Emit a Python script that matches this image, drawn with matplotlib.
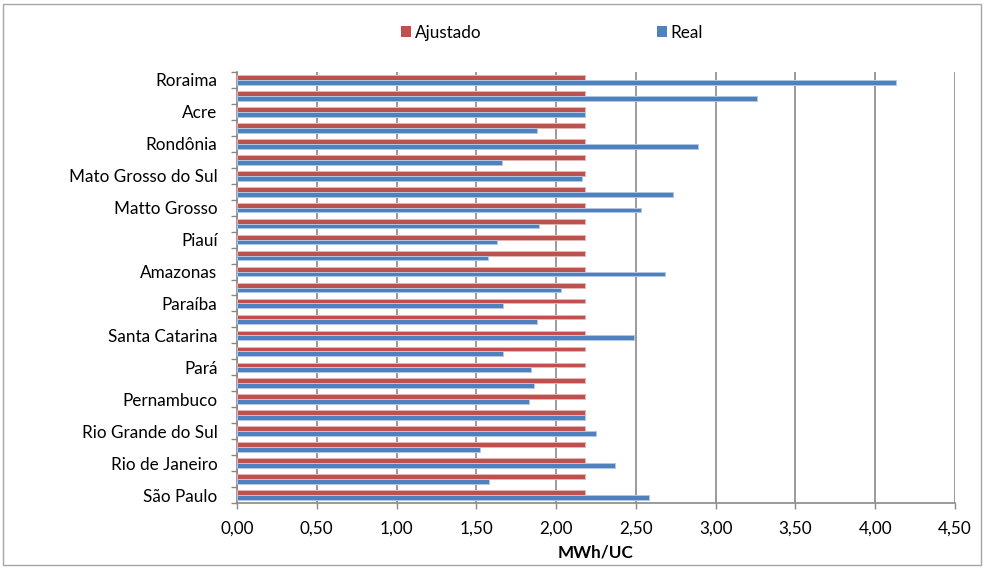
import matplotlib.pyplot as plt
import numpy as np
from matplotlib.patches import Rectangle

plt.rcParams['font.family'] = ['Lato', 'DejaVu Sans']

# states from top to bottom; only every other one gets a label on the axis
estados = ['Roraima', '', 'Acre', '', 'Rondônia', '', 'Mato Grosso do Sul', '',
           'Matto Grosso', '', 'Piauí', '', 'Amazonas', '', 'Paraíba', '',
           'Santa Catarina', '', 'Pará', '', 'Pernambuco', '', 'Rio Grande do Sul', '',
           'Rio de Janeiro', '', 'São Paulo']
real = [4.13, 3.26, 2.18, 1.88, 2.89, 1.66, 2.16, 2.73, 2.53, 1.89, 1.63, 1.57, 2.68, 2.03,
        1.67, 1.88, 2.49, 1.67, 1.84, 1.86, 1.83, 2.18, 2.25, 1.52, 2.37, 1.58, 2.58]
ajustado = [2.18] * 27
xticks = [0, 0.5, 1.0, 1.5, 2.0, 2.5, 3.0, 3.5, 4.0, 4.5]
xticklabels = ['0,00', '0,50', '1,00', '1,50', '2,00', '2,50', '3,00', '3,50', '4,00', '4,50']

vermelho = '#C0504D'
azul = '#4F81BD'
cinza = '#898989'
fs = 12.3

fig = plt.figure(figsize=(9.84, 5.68), dpi=100)
ax = fig.add_axes([237 / 984, 1 - 503 / 568, (955 - 237) / 984, (503 - 72) / 568])

n = len(estados)
y = np.arange(n)[::-1]
h = 0.3
ax.barh(y + h / 2, ajustado, height=h, color=vermelho, edgecolor='#E3B5B4', linewidth=0.7,
        label='Ajustado', zorder=3)
ax.barh(y - h / 2, real, height=h, color=azul, edgecolor='#B3C7E3', linewidth=0.7,
        label='Real', zorder=3)

ax.set_xlim(0, 4.5)
ax.set_ylim(-0.5, n - 0.5)
ax.set_xticks(xticks)
ax.set_xticklabels(xticklabels, fontsize=fs)
ax.xaxis.grid(True, color=cinza, linewidth=1.2, zorder=0)

rot = [(y[i], estados[i]) for i in range(n) if estados[i]]
ax.set_yticks([p for p, _ in rot])
ax.set_yticklabels([s for _, s in rot], fontsize=fs)
ax.set_yticks(np.arange(-0.5, n, 1.0), minor=True)
ax.tick_params(axis='y', which='major', length=0, pad=14)
ax.tick_params(axis='y', which='minor', length=4.5, width=1.0, color=cinza, direction='out')
ax.tick_params(axis='x', length=4, width=1.0, color=cinza, pad=8.5)

for lado in ['top', 'right']:
    ax.spines[lado].set_visible(False)
for lado in ['left', 'bottom']:
    ax.spines[lado].set_color(cinza)
    ax.spines[lado].set_linewidth(1.2)

ax.set_xlabel('MWh/UC', fontsize=fs, fontweight='bold', labelpad=6)

leg = fig.legend(loc='center', bbox_to_anchor=(0.561, 0.942), ncol=2, frameon=False, fontsize=fs,
                 handlelength=0.6, handleheight=0.6, handletextpad=0.2, columnspacing=10.3)
for p in leg.get_patches():
    p.set_linewidth(0)

fig.patches.append(Rectangle((3 / 984, 3 / 568), 978 / 984, 561 / 568, transform=fig.transFigure,
                             fill=False, edgecolor='#A6A6A6', linewidth=1.0))

fig.savefig('out.png', dpi=100)
